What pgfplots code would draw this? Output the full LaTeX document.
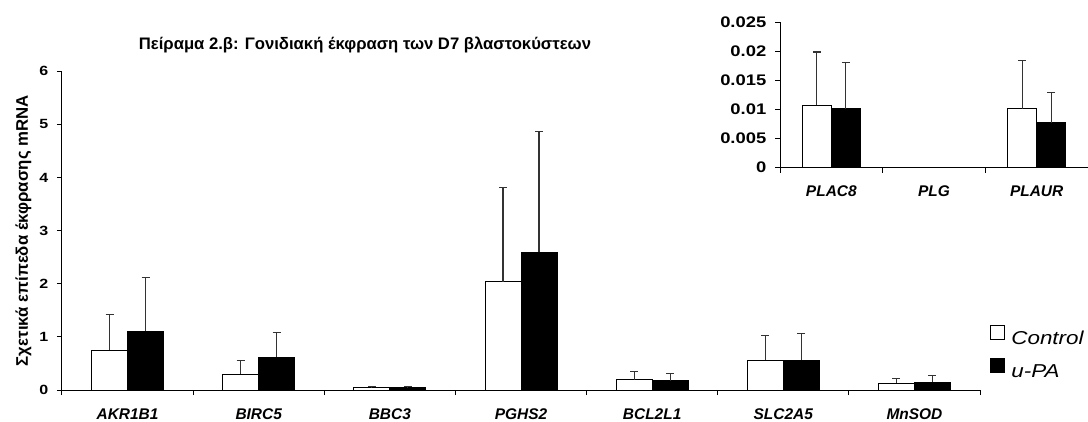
\documentclass[border=0pt]{standalone}
\usepackage{fontspec}
\setmainfont{Liberation Sans}
\newfontfamily\wfont[FakeStretch=1.2]{Liberation Sans}
\usepackage{pgfplots}
\pgfplotsset{compat=1.18}
\usepackage{pgfplotstable}

% x = category index, c/u = Control / u-PA mean, cp/up = upper error
\pgfplotstableread{
x c    cp   u    up
0 0.75 0.68 1.11 1.00
1 0.30 0.26 0.62 0.46
2 0.04 0.03 0.04 0.03
3 2.04 1.78 2.59 2.28
4 0.19 0.15 0.17 0.14
5 0.56 0.47 0.56 0.50
6 0.13 0.09 0.15 0.12
}\maindata

% PLG (x=1) has no expression
\pgfplotstableread{
x c      cp     u      up
0 0.0107 0.0092 0.0101 0.0080
2 0.0101 0.0084 0.0077 0.0053
}\insetdata

\pgfplotsset{
  genebars/.style={
    scale only axis,
    ybar=0pt,
    axis x line*=bottom, axis y line*=left,
    axis line style={line width=0.75pt, black},
    tick align=outside,
    major tick length=3.75pt, minor tick length=3.75pt,
    tick style={line width=0.75pt, black},
    major x tick style={draw=none},
    ymin=0,
    scaled y ticks=false,
    xticklabel style={font=\bfseries\itshape\fontsize{11.6}{13}\selectfont, yshift=-6.5pt},
    error bars/y dir=plus, error bars/y explicit,
    error bars/error bar style={line width=0.8pt, black!80},
    error bars/error mark options={line width=0.8pt, black!80, mark size=3pt, rotate=90},
  },
  boxlegend/.style={
    legend image code/.code={
      \draw[##1, line width=0.75pt, draw=black] (0pt,-0.5pt) rectangle (10.5pt,10pt);
      \path (13pt,0pt);}
  },
}

\begin{document}
\begin{tikzpicture}
\useasboundingbox (0,0) rectangle (816pt,315.75pt);

\begin{axis}[
  genebars,
  at={(46.5pt,23.25pt)}, anchor=south west,
  width=688.5pt, height=239pt,
  bar width=27pt,
  xmin=-0.5, xmax=6.5, ymax=6,
  xtick={0,...,6},
  xticklabels={AKR1B1, BIRC5, BBC3, PGHS2, BCL2L1, SLC2A5, MnSOD},
  minor xtick={-0.5,0.5,...,6.5},
  ytick={0,...,6},
  yticklabels={0,1,2,3,4,5,6},
  yticklabel style={font=\wfont\bfseries\fontsize{10}{12}\selectfont, xshift=-3pt},
  title={Πείραμα 2.β: Γονιδιακή έκφραση των D7 βλαστοκύστεων},
  title style={font=\bfseries\fontsize{12.5}{14}\selectfont, at={(rel axis cs:0.330,1.058)}, anchor=center, yshift=0pt},
  ylabel={Σχετικά επίπεδα έκφρασης mRNA},
  ylabel style={font=\bfseries\fontsize{12.6}{14}\selectfont, at={(rel axis cs:-0.042,0.5)}, anchor=center, xshift=0pt, yshift=0pt},
  legend style={draw=none, fill=none, at={(rel axis cs:1.011,0.206)}, anchor=north west,
    inner sep=0pt, row sep=7pt, font=\wfont\itshape\fontsize{14}{16}\selectfont},
  legend cell align=left,
]
\addplot[fill=white, draw=black, line width=0.75pt, boxlegend]
  table[x=x, y=c, y error plus=cp] {\maindata};
\addplot[fill=black, draw=black, line width=0.75pt, boxlegend]
  table[x=x, y=u, y error plus=up] {\maindata};
\legend{Control, u-PA}
\end{axis}

\begin{axis}[
  genebars,
  at={(585pt,190pt)}, anchor=south west,
  width=231pt, height=109pt,
  bar width=21.75pt,
  xmin=-0.5, xmax=2.5, ymax=0.025,
  xtick={0,1,2},
  xticklabels={PLAC8, PLG, PLAUR},
  minor xtick={-0.5,0.5,...,2.5},
  ytick={0,0.005,0.01,0.015,0.02,0.025},
  yticklabels={0,0.005,0.01,0.015,0.02,0.025},
  yticklabel style={font=\wfont\bfseries\fontsize{11.5}{13}\selectfont, xshift=-3pt},
]
\addplot[fill=white, draw=black, line width=0.75pt]
  table[x=x, y=c, y error plus=cp] {\insetdata};
\addplot[fill=black, draw=black, line width=0.75pt]
  table[x=x, y=u, y error plus=up] {\insetdata};
\end{axis}
\end{tikzpicture}
\end{document}
